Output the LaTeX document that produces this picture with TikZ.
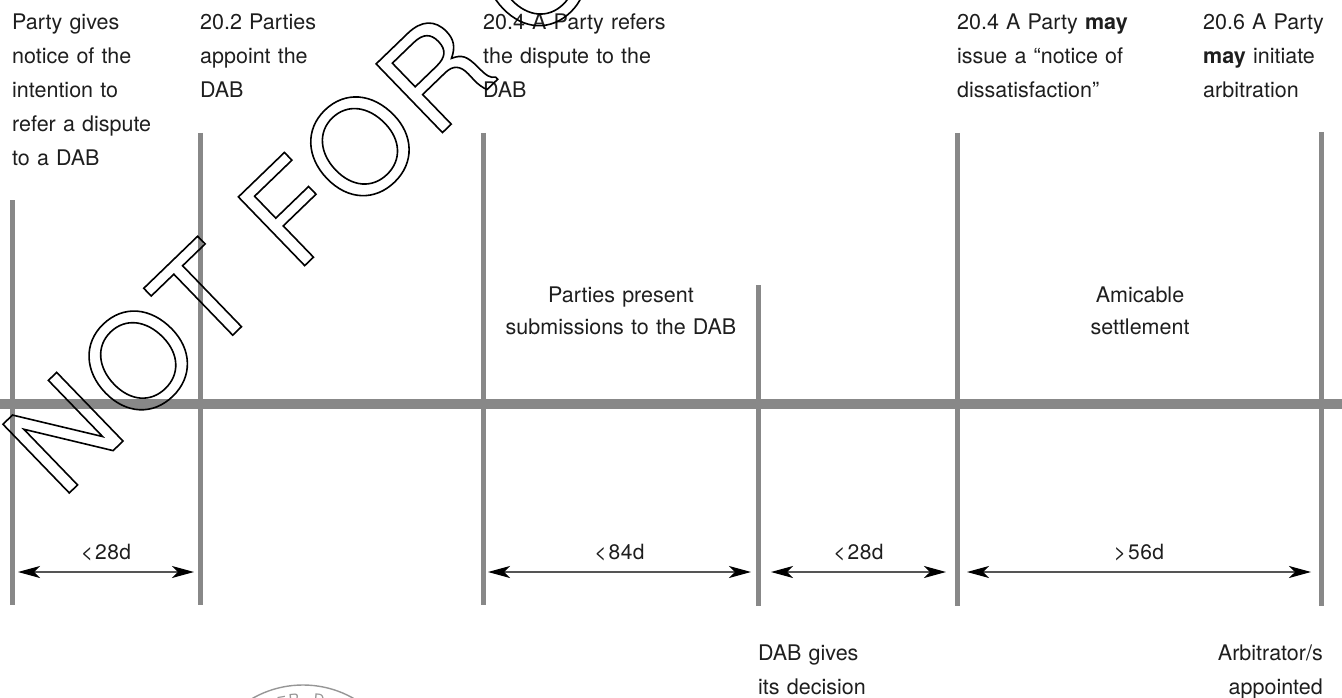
\documentclass[tikz,border=0pt]{standalone}
\usepackage{fontspec}
\setmainfont{TeX Gyre Heros}
\usetikzlibrary{arrows.meta}
\definecolor{linegray}{RGB}{136,136,136}
\definecolor{txt}{RGB}{30,30,30}
\definecolor{shaft}{RGB}{85,85,85}
\definecolor{stampgray}{RGB}{150,150,150}
\newcommand{\outlinetext}[1]{\special{pdf:literal direct 1 Tr 1.6 w}#1\special{pdf:literal direct 0 Tr}}
\begin{document}
\begin{tikzpicture}[x=1pt,y=-1pt,
  tline/.style={line width=5pt, draw=linegray},
  bar/.style={line width=9.5pt, draw=linegray},
  blk/.style={inner sep=0pt, anchor=base west, align=left, text width=#1,
    font=\fontsize{21.5}{34}\selectfont, text=txt},
  midblk/.style={inner sep=0pt, anchor=base, align=center, text width=#1,
    font=\fontsize{21.5}{32}\selectfont, text=txt},
  rblk/.style={inner sep=0pt, anchor=base east, align=right, text width=#1,
    font=\fontsize{21.5}{34}\selectfont, text=txt},
  dur/.style={draw=shaft, line width=1.3pt,
    {Stealth[length=22pt,width=12pt,inset=6pt,color=black]}-{Stealth[length=22pt,width=12pt,inset=6pt,color=black]}},
  durlbl/.style={inner sep=0pt, anchor=base, yshift=13pt,
    font=\fontsize{21}{24}\selectfont\addfontfeatures{LetterSpace=2}, text=txt},
  stampletter/.style={inner sep=0pt, text=stampgray, font=\fontsize{15}{15}\selectfont}
]
\useasboundingbox (0,0) rectangle (1342,698);

% vertical event lines
\draw[tline] (12,200) -- (12,605);
\draw[tline] (200.5,133) -- (200.5,605);
\draw[tline] (483,133) -- (483,605);
\draw[tline] (758.5,285) -- (758.5,606);
\draw[tline] (957.5,133) -- (957.5,606);
\draw[tline] (1321,132) -- (1321,606);

% main time bar
\draw[bar] (0,404) -- (1342,404);

% top texts
\node[blk=180pt] (t1) at (12,30) {Party gives\\notice of the\\intention to\\refer a dispute\\to a DAB};
\node[blk=180pt] (t2) at (200,30) {20.2 Parties\\appoint the\\DAB};
\node[blk=260pt] (t3) at (483,30) {20.4 A Party refers\\the dispute to the\\DAB};
\node[blk=230pt] (t4) at (957,30) {20.4 A Party \textbf{may}\\issue a “notice of\\dissatisfaction”};
\node[blk=138pt] (t5) at (1203,30) {20.6 A Party\\\textbf{may} initiate\\arbitration};

% middle texts
\node[midblk=280pt] (m1) at (621,302) {Parties present\\submissions to the DAB};
\node[midblk=200pt] (m2) at (1140,302) {Amicable\\settlement};

% bottom texts
\node[blk=180pt] (b1) at (758,660) {DAB gives\\its decision};
\node[rblk=160pt] (b2) at (1323,660) {Arbitrator/s\\appointed};

% duration arrows
\coordinate (a1s) at (18,572);  \coordinate (a1e) at (194,572);
\coordinate (a2s) at (488,572); \coordinate (a2e) at (751,572);
\coordinate (a3s) at (771,572); \coordinate (a3e) at (946,572);
\coordinate (a4s) at (967,572); \coordinate (a4e) at (1311,572);
\draw[dur] (a1s) -- (a1e) node[durlbl, midway] (d1) {<\kern2pt28d};
\draw[dur] (a2s) -- (a2e) node[durlbl, midway] (d2) {<\kern2pt84d};
\draw[dur] (a3s) -- (a3e) node[durlbl, midway] (d3) {<\kern2pt28d};
\draw[dur] (a4s) -- (a4e) node[durlbl, midway] (d4) {>\kern2pt56d};

% partial stamp at the bottom
\draw[stampgray, line width=1.4pt] (303,787) circle (102);
\node[stampletter, rotate=10] (s1) at (282,702) {E};
\node[stampletter, rotate=5] (s2) at (294,700) {R};
\node[stampletter, rotate=-6] (s3) at (319,700) {D};

% watermark
\node[rotate=44, anchor=base west, inner sep=0pt, font=\fontsize{131}{131}\selectfont\addfontfeatures{LetterSpace=4.5}] (wm) at (62,500)
  {\outlinetext{NOT FOR O}};
\end{tikzpicture}
\end{document}
